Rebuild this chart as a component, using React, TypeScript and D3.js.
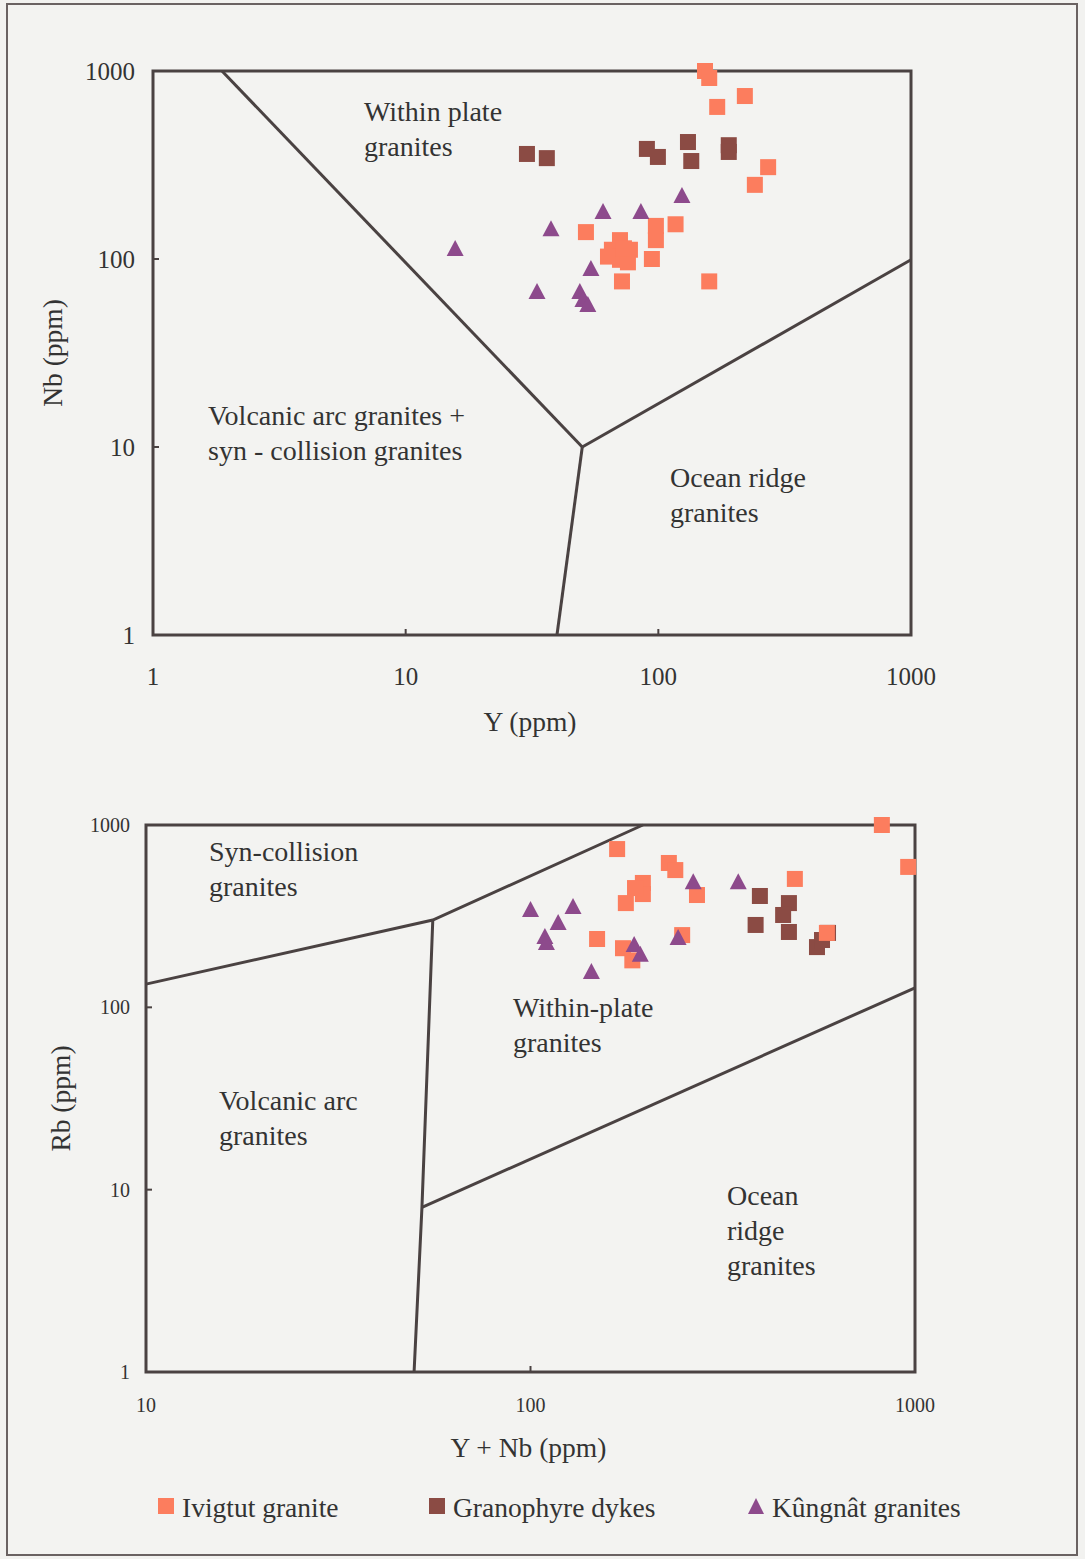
import React from "react";
import * as d3 from "d3";

type Pt = [number, number];

// --- Nb vs Y (top diagram) ---
const ivigtutNbY: Pt[] = [
  [153, 1000], [159, 918], [171, 644], [220, 736], [272, 308], [241, 248],
  [51.7, 139], [65.5, 112], [70.5, 126], [77.2, 112], [70.5, 99], [75.8, 96],
  [63.2, 103], [73.1, 114], [97.8, 150], [97.8, 126], [117, 153], [94.3, 100],
  [71.8, 76], [159, 76],
];
const granophyreNbY: Pt[] = [
  [30.2, 362], [36.2, 344], [90.1, 385], [99.6, 349], [131, 419], [135, 332],
  [190, 403], [190, 371],
];
const kungnatNbY: Pt[] = [
  [15.7, 113], [37.6, 144], [60.4, 178], [85.3, 178], [124, 216], [54.1, 88.5],
  [33.1, 66.7], [48.9, 66.7], [50.3, 60.5], [52.6, 56.9],
];
const boundariesNbY: Pt[][] = [
  [[1.875, 1000], [50, 10]],
  [[39.7, 1], [50, 10]],
  [[50, 10], [1000, 99]],
];

// --- Rb vs Y+Nb (bottom diagram) ---
const ivigtutRb: Pt[] = [
  [820, 1000], [960, 589], [168, 738], [229, 619], [238, 566], [196, 481],
  [196, 418], [177, 373], [187, 451], [271, 413], [487, 506], [149, 237],
  [174, 211], [184, 181], [248, 249], [590, 256],
];
const granophyreRb: Pt[] = [
  [395, 408], [470, 373], [454, 321], [385, 283], [470, 259], [594, 256],
  [556, 214], [573, 234],
];
const kungnatRb: Pt[] = [
  [265, 486], [347, 486], [100, 342], [129, 355], [118, 290], [109, 243],
  [110, 225], [186, 220], [193, 194], [242, 240], [144, 156],
];
const boundariesRb: Pt[][] = [
  [[10, 134], [55.7, 301], [196, 1000]],
  [[49.8, 1], [52.2, 8], [55.7, 301]],
  [[52.2, 8], [1000, 128]],
];

const topTicksX = [1, 10, 100, 1000];
const bottomTicksX = [10, 100, 1000];
const ticksY = [1, 10, 100, 1000];

const legendItems = ["Ivigtut granite", "Granophyre dykes", "Kûngnât granites"];

const C_IVI = "#fc7d5e";
const C_GRA = "#8b4b44";
const C_KUN = "#8d4a8c";
const INK = "#4a4242";
const TXT = "#333";
const FONT = "'Liberation Serif', 'Times New Roman', serif";

function Square({ x, y, c }: { x: number; y: number; c: string }) {
  return <rect x={x - 8} y={y - 8} width={16} height={16} fill={c} />;
}
function Tri({ x, y, c }: { x: number; y: number; c: string }) {
  return <path d={`M${x},${y - 9}L${x + 8.5},${y + 7}L${x - 8.5},${y + 7}Z`} fill={c} />;
}

function Panel(props: {
  left: number; top: number; w: number; h: number;
  xDomain: [number, number]; xTicks: number[];
  ivi: Pt[]; gra: Pt[]; kun: Pt[]; bounds: Pt[][];
  tickSize: number; xLabOff: number; yLabGap: number;
  xTitle: string; yTitle: string; xTitleY: number; yTitleX: number;
  labels: { t: string[]; x: number; y: number }[];
}) {
  const x = d3.scaleLog().domain(props.xDomain).range([props.left, props.left + props.w]);
  const y = d3.scaleLog().domain([1, 1000]).range([props.top + props.h, props.top]);
  const line = d3.line<Pt>().x(d => x(d[0])).y(d => y(d[1]));
  return (
    <g fontFamily={FONT} fill={TXT}>
      {props.bounds.map((b, i) => (
        <path key={i} d={line(b) || ""} fill="none" stroke={INK} strokeWidth={3} />
      ))}
      <rect x={props.left} y={props.top} width={props.w} height={props.h}
        fill="none" stroke={INK} strokeWidth={3} />
      {props.xTicks.slice(1, -1).map(t => (
        <line key={t} x1={x(t)} x2={x(t)} y1={props.top + props.h} y2={props.top + props.h - 6}
          stroke={INK} strokeWidth={2} />
      ))}
      {ticksY.slice(1, -1).map(t => (
        <line key={t} x1={props.left} x2={props.left + 6} y1={y(t)} y2={y(t)} stroke={INK} strokeWidth={2} />
      ))}
      {props.xTicks.map(t => (
        <text key={t} x={x(t)} y={props.top + props.h + props.xLabOff} textAnchor="middle"
          dominantBaseline="central" fontSize={props.tickSize}>{t}</text>
      ))}
      {ticksY.map(t => (
        <text key={t} x={props.left - props.yLabGap} y={y(t)} textAnchor="end"
          dominantBaseline="central" fontSize={props.tickSize}>{t}</text>
      ))}
      <text x={props.left + props.w / 2 - 2} y={props.xTitleY} textAnchor="middle"
        dominantBaseline="central" fontSize={27.5}>{props.xTitle}</text>
      <text transform={`translate(${props.yTitleX},${props.top + props.h / 2}) rotate(-90)`}
        textAnchor="middle" dominantBaseline="central" fontSize={27.5}>{props.yTitle}</text>
      {props.labels.map((l, i) => (
        <text key={i} x={l.x} y={l.y} fontSize={28}>
          {l.t.map((s, j) => (
            <tspan key={j} x={l.x} dy={j === 0 ? 0 : 35}>{s}</tspan>
          ))}
        </text>
      ))}
      {props.gra.map((d, i) => <Square key={"g" + i} x={x(d[0])} y={y(d[1])} c={C_GRA} />)}
      {props.ivi.map((d, i) => <Square key={"i" + i} x={x(d[0])} y={y(d[1])} c={C_IVI} />)}
      {props.kun.map((d, i) => <Tri key={"k" + i} x={x(d[0])} y={y(d[1])} c={C_KUN} />)}
    </g>
  );
}

export default function App() {
  const legendX = [158, 429, 748];
  return (
    <div style={{ position: "absolute", left: 0, top: 0 }}>
      <svg width={1085} height={1559} style={{ display: "block" }}>
        <rect x={0} y={0} width={1085} height={1559} fill="#f2f2f0" />
        <rect x={7} y={4} width={1070} height={1551} fill="#f3f3f1" stroke="#6a6262" strokeWidth={2} />
        <Panel left={153} top={71} w={758} h={564} xDomain={[1, 1000]} xTicks={topTicksX}
          ivi={ivigtutNbY} gra={granophyreNbY} kun={kungnatNbY} bounds={boundariesNbY}
          tickSize={25} xLabOff={41} yLabGap={18} xTitle="Y (ppm)" yTitle="Nb (ppm)"
          xTitleY={721} yTitleX={52}
          labels={[
            { t: ["Within plate", "granites"], x: 364, y: 121 },
            { t: ["Volcanic arc granites +", "syn - collision granites"], x: 208, y: 425 },
            { t: ["Ocean ridge", "granites"], x: 670, y: 487 },
          ]} />
        <Panel left={146} top={825} w={769} h={547} xDomain={[10, 1000]} xTicks={bottomTicksX}
          ivi={ivigtutRb} gra={granophyreRb} kun={kungnatRb} bounds={boundariesRb}
          tickSize={20} xLabOff={33} yLabGap={16} xTitle="Y + Nb (ppm)" yTitle="Rb (ppm)"
          xTitleY={1447} yTitleX={60}
          labels={[
            { t: ["Syn-collision", "granites"], x: 209, y: 861 },
            { t: ["Within-plate", "granites"], x: 513, y: 1017 },
            { t: ["Volcanic arc", "granites"], x: 219, y: 1110 },
            { t: ["Ocean", "ridge", "granites"], x: 727, y: 1205 },
          ]} />
        <g fontFamily={FONT} fill={TXT} fontSize={27.5}>
          {legendItems.map((s, i) => (
            <g key={s}>
              {i < 2
                ? <rect x={legendX[i]} y={1498} width={16} height={16} fill={i === 0 ? C_IVI : C_GRA} />
                : <path d={`M${legendX[i] + 8},${1498}L${legendX[i] + 16},${1514}L${legendX[i]},${1514}Z`} fill={C_KUN} />}
              <text x={legendX[i] + 24} y={1507} dominantBaseline="central">{s}</text>
            </g>
          ))}
        </g>
      </svg>
    </div>
  );
}
